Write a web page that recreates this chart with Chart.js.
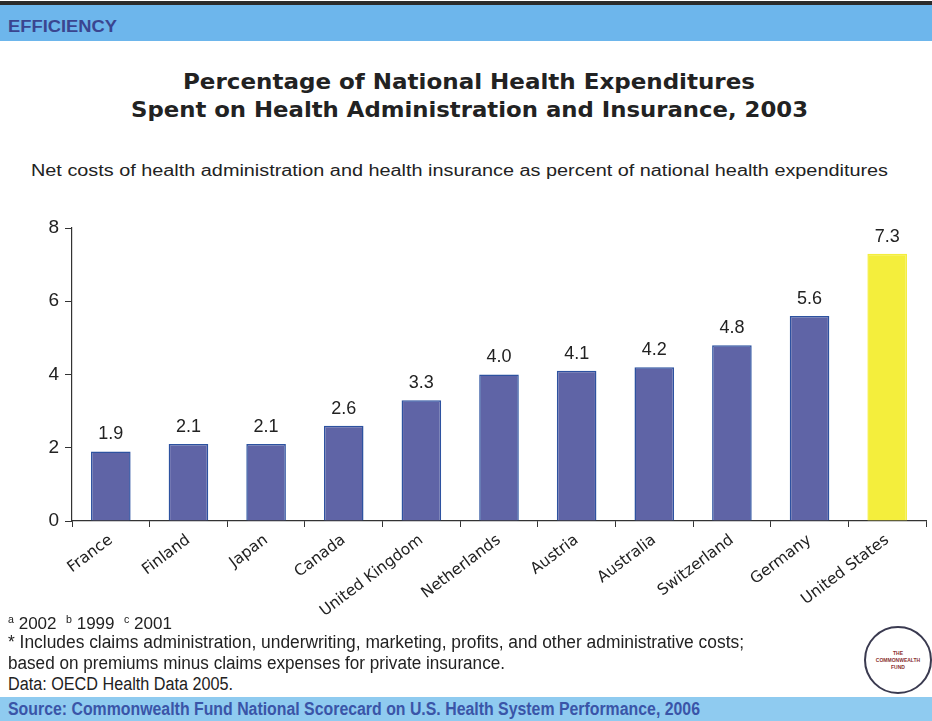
<!DOCTYPE html>
<html>
<head>
<meta charset="utf-8">
<script src="https://cdn.jsdelivr.net/npm/chart.js@4.4.1/dist/chart.umd.min.js"></script>
<style>
  html, body { margin: 0; padding: 0; background: #fff; }
  body { width: 932px; height: 721px; position: relative; overflow: hidden; font-family: "Liberation Sans", Arial, sans-serif; color: #222; }
  .topline { position: absolute; left: 0; top: 1px; width: 932px; height: 4px; background: #2b2b2b; }
  .header { position: absolute; left: 0; top: 5px; width: 932px; height: 36px; background: #6db6ec; }
  .footer { position: absolute; left: 0; top: 697px; width: 932px; height: 24px; background: #8fcbf0; }
  .txt { position: absolute; white-space: nowrap; transform-origin: 0 0; line-height: 1.15; }
  .title { font-family: "DejaVu Sans", sans-serif; font-weight: bold; font-size: 21px; color: #222; }
  .subtitle { font-size: 16px; }
  .note { font-size: 18px; }
  .logo { position: absolute; left: 864px; top: 626px; width: 64px; height: 64px; border: 2px solid #3a3a50; border-radius: 50%; background: #fff; text-align: center; font-size: 5px; font-weight: bold; color: #8a3030; line-height: 7px; }
  .logo div { margin-top: 22px; }
  #chartBox { position: absolute; left: 0; top: 200px; width: 932px; height: 420px; }
</style>
</head>
<body>
<div class="topline"></div>
<div class="header"></div>
<div class="txt" data-x0="8" data-x1="117" style="top:18px; font-size:16px; font-weight:bold; color:#3a4590">EFFICIENCY</div>
<div class="txt title" data-x0="183" data-x1="755" style="top:70px">Percentage of National Health Expenditures</div>
<div class="txt title" data-x0="131" data-x1="808" style="top:98px">Spent on Health Administration and Insurance, 2003</div>
<div class="txt subtitle" data-x0="31" data-x1="888" style="top:162px">Net costs of health administration and health insurance as percent of national health expenditures</div>

<div id="chartBox"><canvas id="costChart"></canvas></div>

<div class="txt note" data-x0="8" data-x1="172" style="top:614px; font-size:16px"><sup style="font-size:10px">a</sup> 2002 &nbsp;<sup style="font-size:10px">b</sup> 1999 &nbsp;<sup style="font-size:10px">c</sup> 2001</div>
<div class="txt note" data-x0="8" data-x1="744" style="top:632px">* Includes claims administration, underwriting, marketing, profits, and other administrative costs;</div>
<div class="txt note" data-x0="8" data-x1="505" style="top:653px">based on premiums minus claims expenses for private insurance.</div>
<div class="txt note" data-x0="8" data-x1="233" style="top:674px">Data: OECD Health Data 2005.</div>

<div class="footer"></div>
<div class="txt" data-x0="8" data-x1="700" style="top:699px; font-size:18px; font-weight:bold; color:#3a55a8">Source: Commonwealth Fund National Scorecard on U.S. Health System Performance, 2006</div>
<div class="logo"><div>THE<br>COMMONWEALTH<br>FUND</div></div>

<script>
// Chart data
const countries = ['France', 'Finland', 'Japan', 'Canada', 'United Kingdom', 'Netherlands',
    'Austria', 'Australia', 'Switzerland', 'Germany', 'United States'];
const adminCosts = [1.9, 2.1, 2.1, 2.6, 3.3, 4.0, 4.1, 4.2, 4.8, 5.6, 7.3];
const valueLabels = ['1.9', '2.1', '2.1', '2.6', '3.3', '4.0', '4.1', '4.2', '4.8', '5.6', '7.3'];
const yTicks = [0, 2, 4, 6, 8];

// stretch the slide texts to the width they take in the scan
document.querySelectorAll('.txt').forEach(el => {
    const x0 = +el.dataset.x0, x1 = +el.dataset.x1;
    el.style.left = x0 + 'px';
    const w = el.getBoundingClientRect().width;
    el.style.transform = `scaleX(${(x1 - x0) / w})`;
});

const barFill = countries.map(c => c === 'United States' ? '#f4ee3c' : '#5f64a6');
const barEdge = countries.map(c => c === 'United States' ? '#f4ee3c' : '#2d52a0');

// value labels above each bar
const valueLabelPlugin = {
    id: 'valueLabels',
    afterDatasetsDraw(chart) {
        const ctx = chart.ctx;
        const meta = chart.getDatasetMeta(0);
        ctx.save();
        ctx.font = '18px "Liberation Sans", Arial, sans-serif';
        ctx.fillStyle = '#222';
        ctx.textAlign = 'center';
        ctx.textBaseline = 'bottom';
        meta.data.forEach((bar, i) => {
            ctx.fillText(valueLabels[i], bar.x, bar.y - 8);
        });
        ctx.restore();
    }
};

Chart.defaults.font.family = '"Liberation Sans", Arial, sans-serif';
Chart.defaults.color = '#222';

new Chart(document.getElementById('costChart').getContext('2d'), {
    type: 'bar',
    data: {
        labels: countries,
        datasets: [{
            data: adminCosts,
            backgroundColor: barFill,
            borderColor: barEdge,
            borderWidth: 1.5,
            categoryPercentage: 1,
            barPercentage: 0.51
        }]
    },
    options: {
        responsive: true,
        maintainAspectRatio: false,
        animation: false,
        layout: { padding: { top: 28, right: 6, left: 0, bottom: 0 } },
        plugins: {
            legend: { display: false },
            tooltip: { enabled: false }
        },
        scales: {
            y: {
                min: 0,
                max: 8,
                afterBuildTicks: (scale) => { scale.ticks = yTicks.map(v => ({ value: v })); },
                afterFit: (scale) => { scale.width = 72; },
                border: { color: '#333', width: 1.2 },
                grid: { drawOnChartArea: false, tickLength: 7, color: '#333' },
                ticks: { font: { size: 19 }, color: '#222', padding: 6 }
            },
            x: {
                afterFit: (scale) => { scale.height = 99; },
                border: { color: '#333', width: 1.2 },
                grid: { drawOnChartArea: false, tickLength: 6, color: '#333' },
                ticks: {
                    font: { family: '"DejaVu Sans", sans-serif', size: 15.5 },
                    color: '#222', minRotation: 37, maxRotation: 37, padding: 4
                }
            }
        }
    },
    plugins: [valueLabelPlugin]
});
</script>
</body>
</html>
